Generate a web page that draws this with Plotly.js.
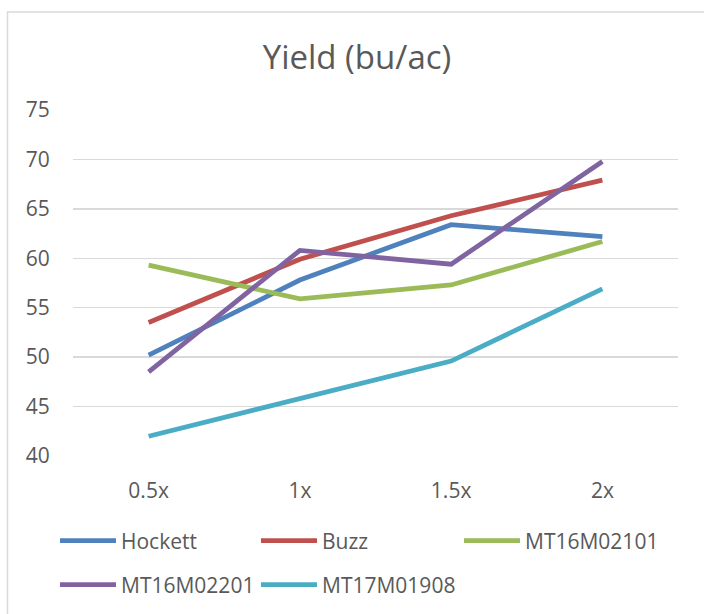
<!DOCTYPE html>
<html>
<head>
<meta charset="utf-8">
<script src="https://cdn.plot.ly/plotly-3.0.1.min.js"></script>
<style>html,body{margin:0;padding:0;background:#fff;}#chart{width:704px;height:614px;}</style>
</head>
<body>
<div id="chart"></div>
<script>
const categories = ['0.5x', '1x', '1.5x', '2x'];
const seriesNames = ['Hockett', 'Buzz', 'MT16M02101', 'MT16M02201', 'MT17M01908'];
const hockett = [50.2, 57.8, 63.4, 62.2];
const buzz = [53.5, 59.9, 64.3, 67.9];
const mt16m02101 = [59.3, 55.9, 57.3, 61.7];
const mt16m02201 = [48.5, 60.8, 59.4, 69.8];
const mt17m01908 = [42.0, 45.8, 49.6, 56.9];
const yTicks = [40, 45, 50, 55, 60, 65, 70, 75];

const colors = ['#4F81BD', '#C0504D', '#9BBB59', '#8064A2', '#4BACC6'];
const values = [hockett, buzz, mt16m02101, mt16m02201, mt17m01908];
const legendIds = ['legend', 'legend', 'legend3', 'legend2', 'legend2'];

const font = 'Open Sans, sans-serif';
const textColor = '#595959';

const traces = values.map((v, i) => ({
  x: categories,
  y: v,
  name: seriesNames[i],
  type: 'scatter',
  mode: 'lines',
  line: {color: colors[i], width: 4.8},
  legend: legendIds[i]
}));

const legendCommon = {
  orientation: 'h',
  xref: 'container', yref: 'container',
  xanchor: 'left', yanchor: 'middle',
  font: {family: font, size: 21, color: textColor},
  entrywidth: 130, entrywidthmode: 'pixels',
  itemwidth: 56,
  bgcolor: 'rgba(0,0,0,0)',
  traceorder: 'normal'
};

const layout = {
  width: 704, height: 614,
  margin: {l: 73, r: 26, t: 110, b: 158},
  paper_bgcolor: '#fff', plot_bgcolor: '#fff',
  font: {family: font, color: textColor},
  title: {
    text: 'Yield (bu/ac)',
    font: {family: font, size: 33, color: textColor},
    xref: 'container', yref: 'container',
    x: 357 / 704, y: 1 - 57 / 614, xanchor: 'center', yanchor: 'middle'
  },
  xaxis: {
    type: 'category',
    range: [-0.5, 3.5],
    showgrid: false, zeroline: false, showline: false,
    ticks: 'outside', ticklen: 16, tickcolor: 'rgba(0,0,0,0)',
    tickfont: {family: font, size: 21, color: textColor}
  },
  yaxis: {
    range: [40, 75],
    tickvals: yTicks,
    showgrid: true, gridcolor: '#D9D9D9', gridwidth: 1.5,
    zeroline: false, showline: false,
    ticks: 'outside', ticklen: 18, tickcolor: 'rgba(0,0,0,0)',
    tickfont: {family: font, size: 21, color: textColor}
  },
  legend: Object.assign({}, legendCommon, {x: 55 / 704, y: 1 - 541 / 614}),
  legend3: Object.assign({}, legendCommon, {x: 459 / 704, y: 1 - 541 / 614}),
  legend2: Object.assign({}, legendCommon, {x: 55 / 704, y: 1 - 585 / 614}),
  shapes: [{
    type: 'rect', xref: 'paper', yref: 'paper',
    x0: (7.5 - 73) / 605, x1: (720 - 73) / 605,
    y0: (456 - 630) / 346, y1: (456 - 12) / 346,
    line: {color: '#D9D9D9', width: 1.5},
    fillcolor: 'rgba(0,0,0,0)', layer: 'below'
  }]
};

Plotly.newPlot('chart', traces, layout, {displayModeBar: false, staticPlot: true});
</script>
</body>
</html>
